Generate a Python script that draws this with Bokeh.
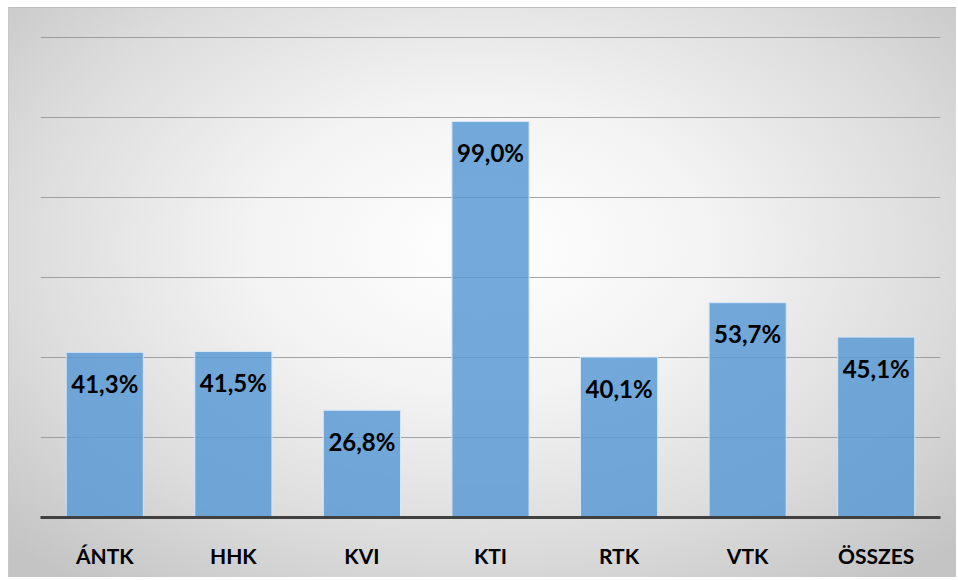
from bokeh.plotting import figure
from bokeh.models import ColumnDataSource, FactorRange
from bokeh.core.properties import value
from bokeh.embed import file_html
from bokeh.resources import INLINE

categories = ["ÁNTK", "HHK", "KVI", "KTI", "RTK", "VTK", "ÖSSZES"]
values = [41.3, 41.5, 26.8, 99.0, 40.1, 53.7, 45.1]
labels = ["41,3%", "41,5%", "26,8%", "99,0%", "40,1%", "53,7%", "45,1%"]
grid_ticks = [0, 20, 40, 60, 80, 100, 120]

src = ColumnDataSource(dict(cat=categories, val=values, lab=labels))

p = figure(x_range=FactorRange(*categories, range_padding=0), y_range=(0, 120.5),
           width=948, height=570, output_backend="svg", toolbar_location=None,
           min_border_left=31, min_border_right=17, min_border_top=27, min_border_bottom=61)

p.background_fill_alpha = 0
p.border_fill_alpha = 0
p.outline_line_color = None
p.styles = {
    "background": "radial-gradient(ellipse 70% 75% at 50% 42%, #ffffff 0%, #f3f3f3 35%, #dcdcdc 70%, #c4c4c4 100%)",
    "border-top": "1px solid #bdbdbd",
    "border-left": "1px solid #c8c8c8",
    "margin-left": "8px",
    "margin-top": "7px",
}

p.vbar(x="cat", top="val", width=0.6, source=src, fill_color="#5b9bd5", fill_alpha=0.85,
       line_color="#d6e6f5", line_width=1)

p.text(x="cat", y="val", text="lab", source=src, text_align="center", text_baseline="alphabetic",
       y_offset=31, text_font=value("Lato"), text_font_style="bold", text_font_size="24px",
       text_color="#000000")

p.yaxis.visible = False
p.ygrid.ticker = grid_ticks
p.ygrid.grid_line_color = "#8f8f8f"
p.ygrid.grid_line_alpha = 0.8
p.xgrid.grid_line_color = None

ax = p.xaxis[0]
ax.axis_line_color = "#404040"
ax.axis_line_width = 3
ax.major_tick_line_color = None
ax.minor_tick_line_color = None
ax.major_label_standoff = 19
ax.major_label_text_font = "Lato"
ax.major_label_text_font_style = "bold"
ax.major_label_text_font_size = "21px"
ax.major_label_text_color = "#000000"

open("out.html", "w").write(file_html(p, INLINE))
